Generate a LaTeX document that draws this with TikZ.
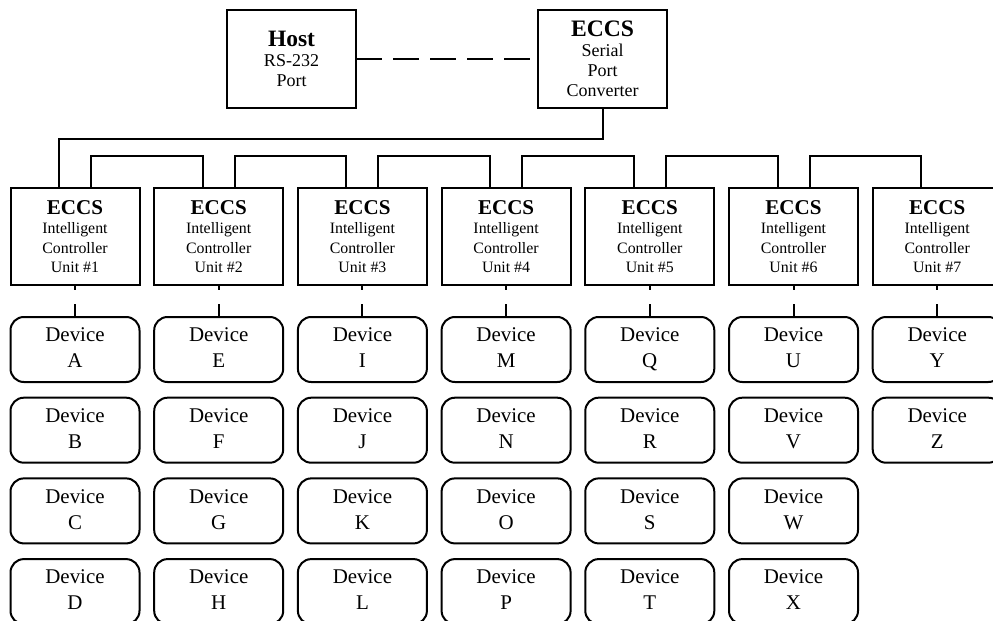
\documentclass[tikz,border=0pt]{standalone}
\usepackage{fontspec}
\setmainfont{Liberation Serif}
\usepackage{tikz}
\usetikzlibrary{calc}

\begin{document}
\begin{tikzpicture}[x=0.75pt, y=-0.75pt,
		wire/.style={line width=1.5pt},
		topbox/.style={draw, line width=1.5pt, inner sep=0pt, outer sep=0pt, minimum width=96.75pt, minimum height=73.5pt, align=center, font=\fontsize{13.5}{15}\selectfont},
		unitbox/.style={draw, line width=1.5pt, inner sep=0pt, outer sep=0pt, minimum width=96.75pt, minimum height=72.75pt, align=center, font=\fontsize{11.9}{14.6}\selectfont},
		devbox/.style={draw, line width=1.5pt, rounded corners=10pt, inner sep=0pt, outer sep=0pt, minimum width=96.75pt, minimum height=48.75pt, align=center, font=\fontsize{15.7}{19.5}\selectfont}]
			\useasboundingbox (0, 0) rectangle (993, 621);
			\clip (0, 0) rectangle (993, 621);
			%%
			\node[topbox] (host) at (291.5, 59) {{\fontsize{17.6}{15}\selectfont\bfseries Host}\\RS-232\\Port};
			\node[topbox] (conv) at (602.5, 59) {{\fontsize{17.7}{15}\selectfont\bfseries ECCS}\\Serial\\Port\\Converter};
			\draw[wire, dash pattern=on 19.5pt off 8.25pt] (host.east) -- (conv.west);
			%%
			\foreach \i in {1,...,7}
				\node[unitbox] (u\i) at ({75 + 143.7*(\i-1)}, 236.5) {{\fontsize{15.8}{14.6}\selectfont\bfseries ECCS}\\Intelligent\\Controller\\Unit \#\i};
			%%
			\draw[wire] (conv.south) -- ++(0, 31) -| ($(u1.north)+(-16, 0)$);
			\foreach \a/\b in {1/2, 2/3, 3/4, 4/5, 5/6, 6/7}
				\draw[wire] ($(u\a.north)+(16, 0)$) -- ++(0, -32.5) -| ($(u\b.north)+(-16, 0)$);
			%%
			\foreach \u/\letters in {1/{A,B,C,D}, 2/{E,F,G,H}, 3/{I,J,K,L}, 4/{M,N,O,P}, 5/{Q,R,S,T}, 6/{U,V,W,X}, 7/{Y,Z}}{
				\foreach \l [count=\r] in \letters
					\node[devbox] (d\u\r) at ($(u\u.south)+(0, {64.5 + 80.7*(\r-1)})$) {Device\\\l\vphantom{Q}};
				\draw[wire] (u\u.south) -- ++(0, 5);
				\draw[wire] (d\u1.north) -- ++(0, -13);
			}
		\end{tikzpicture}
\end{document}
